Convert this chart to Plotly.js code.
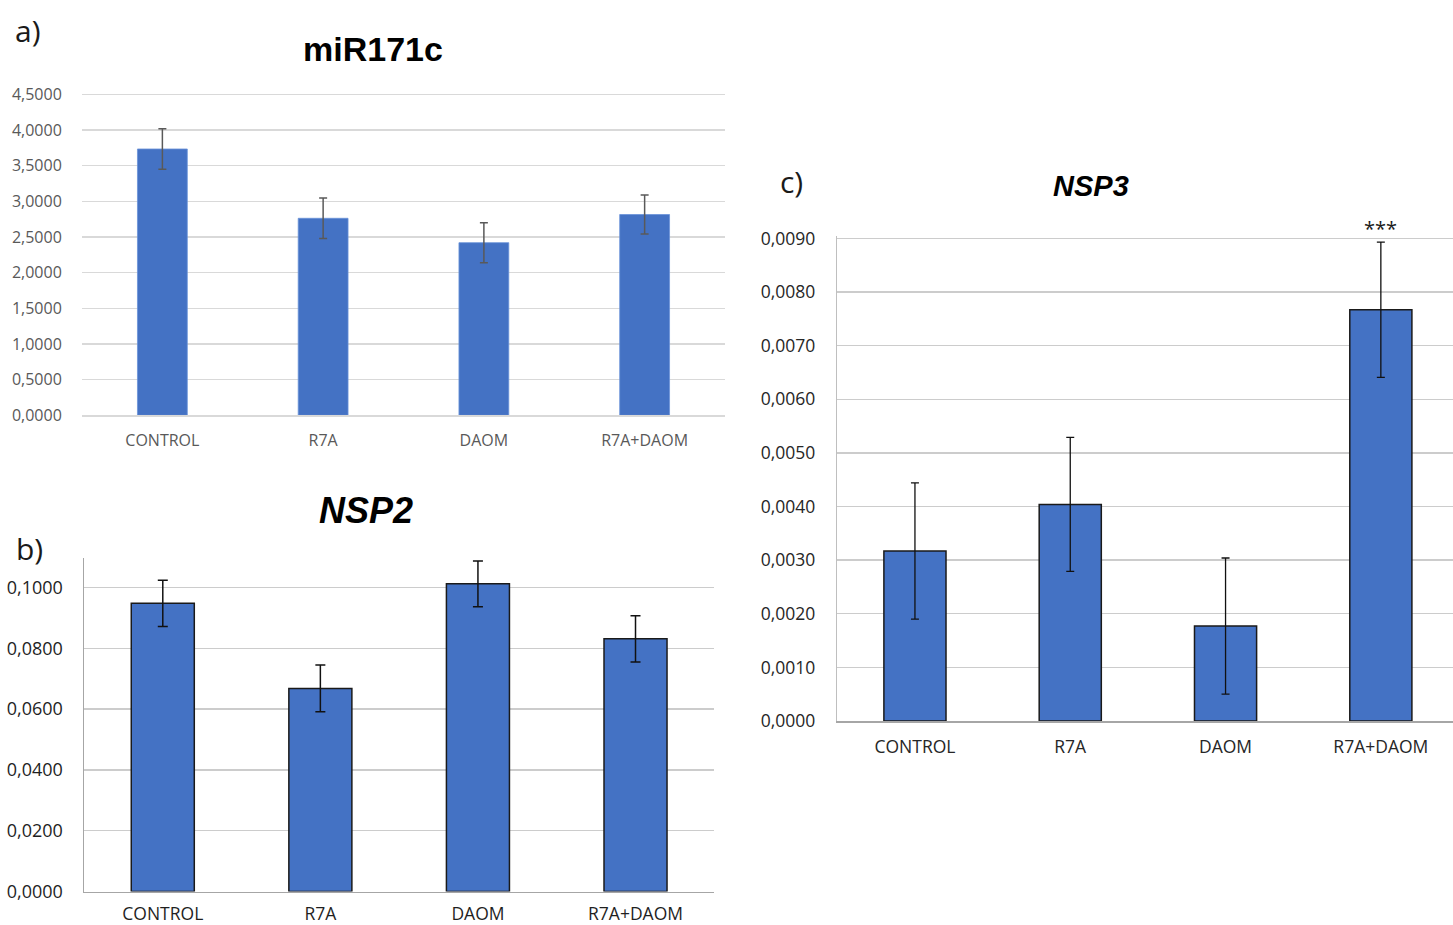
<!DOCTYPE html>
<html>
<head>
<meta charset="utf-8">
<script src="https://cdn.plot.ly/plotly-3.0.1.min.js"></script>
<style>html,body{margin:0;padding:0;background:#fff;}#chart{width:1453px;height:925px;}</style>
</head>
<body>
<div id="chart"></div>
<script>
const categories = ['CONTROL', 'R7A', 'DAOM', 'R7A+DAOM'];

const mirValues = [3.735, 2.763, 2.421, 2.816];
const mirErrors = [0.285, 0.285, 0.280, 0.275];

const nsp2Values = [0.0948, 0.0668, 0.1012, 0.0831];
const nsp2Errors = [0.0076, 0.0077, 0.0075, 0.0076];

const nsp3Values = [0.00317, 0.00404, 0.00177, 0.00767];
const nsp3Errors = [0.00127, 0.00125, 0.00127, 0.00126];

const mirTicks = [0, 0.5, 1, 1.5, 2, 2.5, 3, 3.5, 4, 4.5];
const nsp2Ticks = [0, 0.02, 0.04, 0.06, 0.08, 0.1];
const nsp3Ticks = [0, 0.001, 0.002, 0.003, 0.004, 0.005, 0.006, 0.007, 0.008, 0.009];

const panelTitles = ['miR171c', '<i>NSP2</i>', '<i>NSP3</i>'];
const panelLetters = ['a)', 'b)', 'c)'];
const significance = '***';

const W = 1453, H = 925;
const px = v => v / W;
const py = v => 1 - v / H;
const BLUE = '#4472C4';
const FONT = 'Open Sans, Liberation Sans, sans-serif';
const TFONT = 'Liberation Sans, Arial, sans-serif';

const traces = [
  {
    type: 'bar', x: categories, y: mirValues, xaxis: 'x', yaxis: 'y',
    width: 0.31,
    marker: {color: BLUE, line: {color: '#6a92d8', width: 0.8}},
    error_y: {type: 'data', array: mirErrors, visible: true, color: '#595959', thickness: 1.5, width: 4},
    hoverinfo: 'none'
  },
  {
    type: 'bar', x: categories, y: nsp2Values, xaxis: 'x2', yaxis: 'y2',
    width: 0.40,
    marker: {color: BLUE, line: {color: '#1a1a1a', width: 1.5}},
    error_y: {type: 'data', array: nsp2Errors, visible: true, color: '#111', thickness: 1.5, width: 5},
    hoverinfo: 'none'
  },
  {
    type: 'bar', x: categories, y: nsp3Values, xaxis: 'x3', yaxis: 'y3',
    width: 0.40,
    marker: {color: BLUE, line: {color: '#1a1a1a', width: 1.5}},
    error_y: {type: 'data', array: nsp3Errors, visible: true, color: '#111', thickness: 1.3, width: 4},
    hoverinfo: 'none'
  }
];

const layout = {
  width: W, height: H,
  margin: {l: 0, r: 0, t: 0, b: 0, pad: 0},
  paper_bgcolor: '#fff', plot_bgcolor: '#fff',
  showlegend: false,
  separators: ',.',
  font: {family: FONT},
  xaxis: {
    domain: [px(82), px(725)], anchor: 'y',
    type: 'category', range: [-0.5, 3.5],
    showline: true, linecolor: '#d9d9d9', linewidth: 1.3,
    showgrid: false, zeroline: false,
    ticks: 'outside', ticklen: 10, tickcolor: 'rgba(0,0,0,0)',
    tickfont: {family: FONT, size: 16, color: '#595959'}
  },
  yaxis: {
    domain: [py(415.3), py(415.3 - 4.52 * 71.3)], anchor: 'x',
    range: [0, 4.52], tickvals: mirTicks, tickformat: '.4f',
    showline: false, showgrid: true, gridcolor: '#d9d9d9', gridwidth: 1.3, zeroline: false,
    ticks: 'outside', ticklen: 16, tickcolor: 'rgba(0,0,0,0)',
    tickfont: {family: FONT, size: 16, color: '#595959'}
  },
  xaxis2: {
    domain: [px(84), px(714.3)], anchor: 'y2',
    type: 'category', range: [-0.5, 3.5],
    showline: true, linecolor: '#a6a6a6', linewidth: 1.5,
    showgrid: false, zeroline: false,
    ticks: 'outside', ticklen: 6, tickcolor: 'rgba(0,0,0,0)',
    tickfont: {family: FONT, size: 17.5, color: '#1f1f1f'}
  },
  yaxis2: {
    domain: [py(891.5), py(558)], anchor: 'x2',
    range: [0, 0.1097], tickvals: nsp2Ticks, tickformat: '.4f',
    showline: true, linecolor: '#a6a6a6', linewidth: 1.5,
    showgrid: true, gridcolor: '#cccccc', gridwidth: 1.5, zeroline: false,
    ticks: 'outside', ticklen: 16, tickcolor: 'rgba(0,0,0,0)',
    tickfont: {family: FONT, size: 18, color: '#1f1f1f'}
  },
  xaxis3: {
    domain: [px(837.3), 1], anchor: 'y3',
    type: 'category', range: [-0.5, 3.4646],
    showline: true, linecolor: '#a6a6a6', linewidth: 1.5,
    showgrid: false, zeroline: false,
    ticks: 'outside', ticklen: 9, tickcolor: 'rgba(0,0,0,0)',
    tickfont: {family: FONT, size: 17.5, color: '#262626'}
  },
  yaxis3: {
    domain: [py(721), py(721 - 9.05 * 53.62)], anchor: 'x3',
    range: [0, 0.00905], tickvals: nsp3Ticks, tickformat: '.4f',
    showline: true, linecolor: '#bfbfbf', linewidth: 1.5,
    showgrid: true, gridcolor: '#cccccc', gridwidth: 1.3, zeroline: false,
    ticks: 'outside', ticklen: 17, tickcolor: 'rgba(0,0,0,0)',
    tickfont: {family: FONT, size: 17.5, color: '#262626'}
  },
  annotations: [
    {xref: 'paper', yref: 'paper', x: px(373), y: py(49), xanchor: 'center', yanchor: 'middle',
     text: '<b>' + panelTitles[0] + '</b>', showarrow: false, font: {family: TFONT, size: 34, color: '#000'}},
    {xref: 'paper', yref: 'paper', x: px(366), y: py(510), xanchor: 'center', yanchor: 'middle',
     text: '<b>' + panelTitles[1] + '</b>', showarrow: false, font: {family: TFONT, size: 36, color: '#000'}},
    {xref: 'paper', yref: 'paper', x: px(1091), y: py(186), xanchor: 'center', yanchor: 'middle',
     text: '<b>' + panelTitles[2] + '</b>', showarrow: false, font: {family: TFONT, size: 29, color: '#000'}},
    {xref: 'paper', yref: 'paper', x: px(28), y: py(30), xanchor: 'center', yanchor: 'middle',
     text: panelLetters[0], showarrow: false, font: {family: FONT, size: 30, color: '#1a1a1a'}},
    {xref: 'paper', yref: 'paper', x: px(29), y: py(548), xanchor: 'center', yanchor: 'middle',
     text: panelLetters[1], showarrow: false, font: {family: FONT, size: 30, color: '#1a1a1a'}},
    {xref: 'paper', yref: 'paper', x: px(791), y: py(181), xanchor: 'center', yanchor: 'middle',
     text: panelLetters[2], showarrow: false, font: {family: FONT, size: 30, color: '#1a1a1a'}},
    {xref: 'x3', yref: 'y3', x: categories[3], y: nsp3Values[3] + nsp3Errors[3],
     xanchor: 'center', yanchor: 'bottom', yshift: -2,
     text: significance, showarrow: false, font: {family: FONT, size: 20, color: '#1a1a1a'}}
  ]
};

Plotly.newPlot('chart', traces, layout, {displayModeBar: false, staticPlot: true});
</script>
</body>
</html>
